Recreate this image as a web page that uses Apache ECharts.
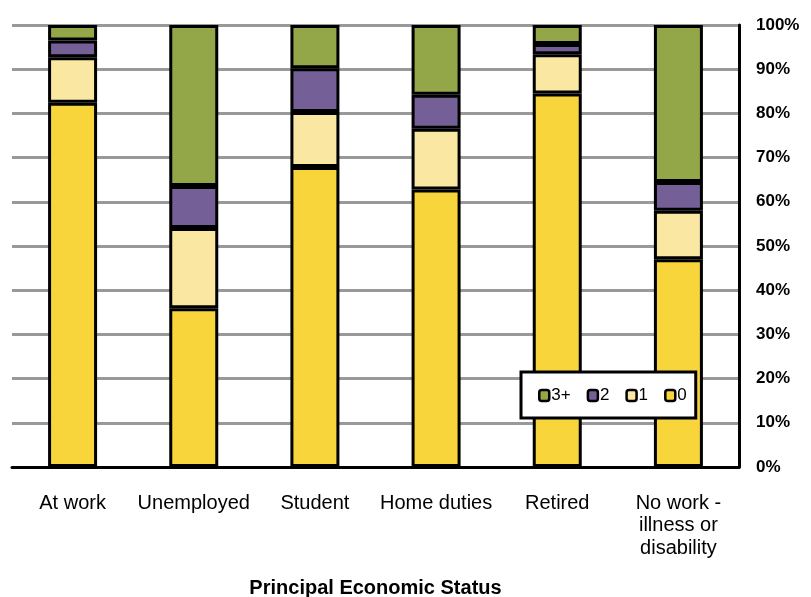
<!DOCTYPE html>
<html><head><meta charset="utf-8">
<script src="https://cdn.jsdelivr.net/npm/echarts@6/dist/echarts.min.js"></script>
<style>html,body{margin:0;padding:0;background:#fff}#c{width:811px;height:597px}</style>
</head><body><div id="c"></div>
<script>
var categories = ['At work', 'Unemployed', 'Student', 'Home duties', 'Retired', 'No work -\nillness or\ndisability'];
var s0 = [82.4, 35.9, 67.9, 62.8, 84.5, 47.0];
var s1 = [10.3, 18.2, 12.4, 13.7, 8.9, 11.0];
var s2 = [3.8, 9.5, 9.9, 7.7, 2.3, 6.5];
var s3 = [3.5, 36.4, 9.8, 15.8, 4.3, 35.5];
var yTicks = [0, 10, 20, 30, 40, 50, 60, 70, 80, 90, 100];

var chart = echarts.init(document.getElementById('c'));
function ser(name, data, color) {
  return {name: name, type: 'bar', stack: 'all', data: data, barWidth: 49,
    itemStyle: {color: color, borderColor: '#000', borderWidth: 3}};
}
chart.setOption({
  animation: false,
  grid: {left: 12, right: 72, top: 25, bottom: 130, outerBoundsMode: 'none', containLabel: false},
  legend: {
    data: ['3+', '2', '1', '0'], left: 521, top: 372,
    padding: [15, 9, 14, 17], itemGap: 16, itemWidth: 10, itemHeight: 11,
    borderColor: '#000', borderWidth: 3, backgroundColor: '#fff',
    textStyle: {fontFamily: 'Liberation Sans, Arial', fontSize: 17, color: '#000', padding: [0, 0, 0, -3]},
    itemStyle: {borderColor: '#000', borderWidth: 2.5}
  },
  xAxis: {
    type: 'category', data: categories,
    name: 'Principal Economic Status', nameLocation: 'middle', nameGap: 111,
    nameTextStyle: {fontFamily: 'Liberation Sans, Arial', fontSize: 20, fontWeight: 'bold', color: '#000'},
    axisLine: {lineStyle: {color: '#000', width: 3}},
    axisTick: {show: false},
    axisLabel: {fontFamily: 'Liberation Sans, Arial', fontSize: 20, color: '#000', margin: 25, lineHeight: 22.5, interval: 0}
  },
  yAxis: {
    type: 'value', position: 'right', min: 0, max: 100, interval: 10,
    axisLine: {show: true, lineStyle: {color: '#000', width: 3}},
    axisTick: {show: false},
    splitLine: {lineStyle: {color: '#999', width: 3}},
    axisLabel: {fontFamily: 'Liberation Sans, Arial', fontSize: 17, fontWeight: 'bold', color: '#000', margin: 17,
      formatter: function (v) { return yTicks.indexOf(v) >= 0 ? v + '%' : ''; }}
  },
  series: [
    ser('0', s0, '#F9D53C'),
    ser('1', s1, '#FAE8A2'),
    ser('2', s2, '#745F96'),
    ser('3+', s3, '#93A648')
  ]
});
</script></body></html>
